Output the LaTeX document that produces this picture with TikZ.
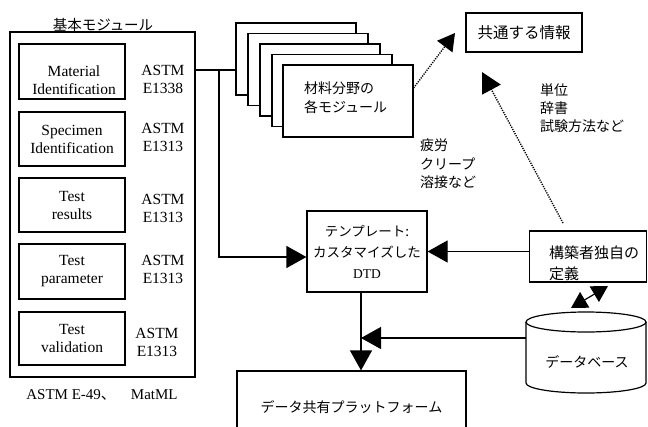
\documentclass[tikz,border=0pt]{standalone}
\usepackage{fontspec}
\setmainfont{Liberation Serif}
\newfontfamily\jp{Noto Sans CJK JP}
\usetikzlibrary{arrows.meta}
\begin{document}
\begin{tikzpicture}[x=1pt,y=-1pt,
  line/.style={line width=1.2pt},
  box/.style={draw, line width=1.2pt, inner sep=0pt, fill=white},
  arr/.style={line width=1.2pt, -{Triangle[length=20pt,width=22pt]}},
  tipd/.style={-{Triangle[length=17pt,width=19pt]}},
  dots/.style={line width=1.4pt, dash pattern=on 1.2pt off 1.2pt},
  en/.style={font=\fontsize{15.5}{18}\selectfont, align=center, inner sep=0pt},
  ja/.style={font=\jp\fontsize{14}{19}\selectfont, inner sep=0pt}]
\useasboundingbox (0,0) rectangle (648,426);

% left block
\node[box, minimum width=185pt, minimum height=345pt] (outer) at (102.5,204.5) {};
\node[ja, font=\jp\fontsize{14.5}{18}\selectfont, anchor=base] (title) at (103,30) {基本モジュール};

\node[box, minimum width=106pt, minimum height=55pt] (mat) at (72,71.5) {};
\node[en] (matt) at (74,80) {Material\\Identification};
\node[box, en, minimum width=106pt, minimum height=54pt] (spec) at (72,139) {Specimen\\Identification};
\node[box, en, minimum width=106pt, minimum height=54pt] (res) at (72,205) {Test\\results};
\node[box, en, minimum width=106pt, minimum height=55pt] (par) at (72,271.5) {Test\\parameter};
\node[box, en, minimum width=106pt, minimum height=53pt] (val) at (72,338.5) {Test\\validation};

\node[en] (a1) at (163,79) {ASTM\\E1338};
\node[en] (a2) at (163,137) {ASTM\\E1313};
\node[en] (a3) at (163,208) {ASTM\\E1313};
\node[en] (a4) at (163,269) {ASTM\\E1313};
\node[en] (a5) at (157,342) {ASTM\\E1313};

\node[font=\fontsize{15}{18}\selectfont, inner sep=0pt] (bot) at (102,395) {ASTM E-49{\jp 、}\quad MatML};

% module stack
\foreach \i in {0,...,3}
  \node[box, minimum width=120pt, minimum height=72pt] (m\i) at ({296+12*\i},{59+10.5*\i}) {};
\node[box, minimum width=130pt, minimum height=72pt] (m4) at (348,101) {};
\node[ja, anchor=west, align=left] (mt) at (304,98) {材料分野の\\各モジュール};

% common info
\node[box, minimum width=116pt, minimum height=39pt, font=\jp\fontsize{15.5}{18}\selectfont] (kyo) at (524,32.5) {共通する情報};

\node[ja, anchor=west, align=left, font=\jp\fontsize{14}{18.5}\selectfont] (l1) at (420,164) {疲労\\クリープ\\溶接など};
\node[ja, anchor=west, align=left, font=\jp\fontsize{14}{18}\selectfont] (l2) at (540,108) {単位\\辞書\\試験方法など};

% template
\node[box, minimum width=120pt, minimum height=81pt, align=center, font=\jp\fontsize{13.5}{21}\selectfont] (tmpl) at (367,251.5) {テンプレート:\\カスタマイズした\\{\rmfamily DTD}};

% builder definition
\node[box, minimum width=117pt, minimum height=51pt] (kou) at (588,256.5) {};
\node[ja, anchor=west, align=left, font=\jp\fontsize{15}{21}\selectfont] (kout) at (549,263) {構築者独自の\\定義};

% database
\node[minimum width=120pt, minimum height=81pt, inner sep=0pt] (db) at (586,352.5) {};
\draw[line, fill=white] (526,322) -- (526,383) arc[start angle=180, end angle=360, x radius=60pt, y radius=10pt] -- (646,322);
\draw[line] (586,322) ellipse [x radius=60pt, y radius=10pt];
\node[ja] (dbt) at (587,362) {データベース};

% platform
\node[box, ja, minimum width=229pt, minimum height=72pt] (plat) at (351.5,407) {データ共有プラットフォーム};

% connectors
\coordinate (j) at (219,70);
\draw[line] (outer.east |- j) -- (m0.west |- j);
\draw[arr] (j) |- ([yshift=-5.5pt]tmpl.west);
\draw[arr] (kou.west |- tmpl.east) -- (tmpl.east);
\coordinate (tb) at (361,292);
\draw[arr] (tb) -- (tb |- plat.north);
\draw[arr] ([yshift=14.5pt]db.west) -- ([yshift=14.5pt]db.west -| tb);

\coordinate (d1) at (455,33);
\draw[dots, tipd] ([yshift=13pt]m4.east) -- (d1);
\coordinate (d2s) at (563,223);
\coordinate (d2) at (482,72);
\draw[dots, -{Triangle[length=20pt,width=21pt]}] (d2s) -- (d2);

\coordinate (e1) at (571,308);
\coordinate (e2) at (608,286);
\draw[line, {Triangle[length=16pt,width=18pt]}-{Triangle[length=16pt,width=18pt]}] (e1) -- (e2);
\end{tikzpicture}
\end{document}
